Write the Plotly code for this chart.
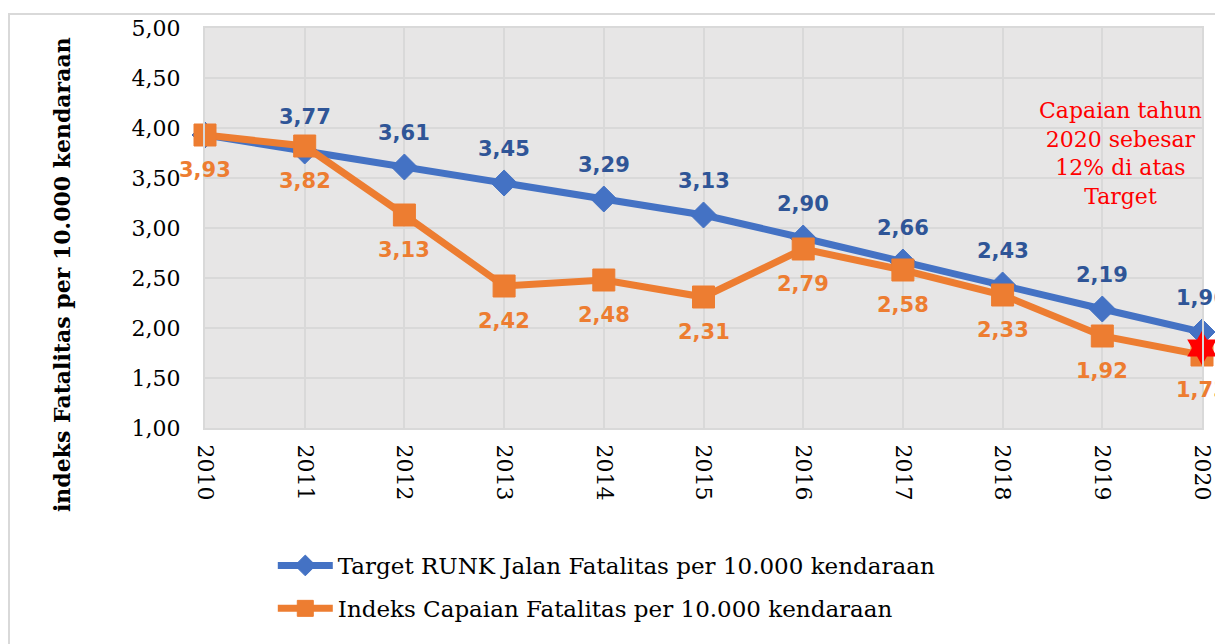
import plotly.graph_objects as go

years = [2010, 2011, 2012, 2013, 2014, 2015, 2016, 2017, 2018, 2019, 2020]
target = [3.93, 3.77, 3.61, 3.45, 3.29, 3.13, 2.90, 2.66, 2.43, 2.19, 1.96]
capaian = [3.93, 3.82, 3.13, 2.42, 2.48, 2.31, 2.79, 2.58, 2.33, 1.92, 1.73]
target_labels = ["", "3,77", "3,61", "3,45", "3,29", "3,13", "2,90", "2,66", "2,43", "2,19", "1,96"]
capaian_labels = ["3,93", "3,82", "3,13", "2,42", "2,48", "2,31", "2,79", "2,58", "2,33", "1,92", "1,73"]
star_x = [2020]
star_y = [1.80]
y_ticks = [1.0, 1.5, 2.0, 2.5, 3.0, 3.5, 4.0, 4.5, 5.0]
y_tick_text = ["1,00", "1,50", "2,00", "2,50", "3,00", "3,50", "4,00", "4,50", "5,00"]

BLUE = "#4472c4"
BLUE_TXT = "#2f5597"
ORANGE = "#ed7d31"
GRID = "#d9d9d9"

fig = go.Figure()
fig.add_trace(go.Scatter(
    x=years, y=target, mode="lines+markers",
    name="Target RUNK Jalan Fatalitas per 10.000 kendaraan", legendgroup="a",
    line=dict(color=BLUE, width=7),
    marker=dict(symbol="diamond", size=20, color=BLUE, line=dict(color=BLUE, width=1)),
    cliponaxis=False,
))
fig.add_trace(go.Scatter(
    x=years, y=capaian, mode="lines+markers",
    name="Indeks Capaian Fatalitas per 10.000 kendaraan", legendgroup="b",
    line=dict(color=ORANGE, width=7),
    marker=dict(symbol="square", size=22, color=ORANGE, line=dict(color=ORANGE, width=1)),
    cliponaxis=False,
))
fig.add_trace(go.Scatter(
    x=star_x, y=star_y, mode="markers", showlegend=False,
    marker=dict(symbol="hexagram", size=26, color="#ff0000", line=dict(width=0)),
    cliponaxis=False,
))

annotations = []
lab_font = dict(family="DejaVu Sans", size=21)
for x, y, t in zip(years, target, target_labels):
    if t:
        annotations.append(dict(x=x, y=y, text="<b>" + t + "</b>", showarrow=False,
                                yshift=34, font=dict(lab_font, color=BLUE_TXT)))
for x, y, t in zip(years, capaian, capaian_labels):
    annotations.append(dict(x=x, y=y, text="<b>" + t + "</b>", showarrow=False,
                            yshift=-35, font=dict(lab_font, color=ORANGE)))

annotations.append(dict(
    xref="paper", yref="paper", x=-0.1434, y=0.3825, xanchor="center", yanchor="middle",
    text="<b>indeks Fatalitas per 10.000 kendaraan</b>", textangle=-90, showarrow=False,
    font=dict(family="DejaVu Serif", size=22, color="black"),
))
annotations.append(dict(
    xref="paper", yref="paper", x=0.918, y=0.685, xanchor="center", yanchor="middle",
    text="Capaian tahun<br>2020 sebesar<br>12% di atas<br>Target", showarrow=False,
    font=dict(family="DejaVu Serif", size=22, color="#ff0000"),
))

fig.update_layout(
    width=1215, height=644,
    margin=dict(l=205, r=13, t=28, b=216, autoexpand=False),
    paper_bgcolor="white",
    plot_bgcolor="#e7e6e6",
    annotations=annotations,
    showlegend=True,
    legend=dict(x=0.068, y=-0.29, xanchor="left", yanchor="top",
                font=dict(family="DejaVu Serif", size=23, color="black"),
                bgcolor="rgba(0,0,0,0)", itemwidth=55, tracegroupgap=10),
    shapes=[dict(type="rect", xref="paper", yref="paper",
                 x0=-0.1966, x1=1.3, y0=-1.0, y1=1.035,
                 line=dict(color=GRID, width=2), layer="below")],
)
fig.update_xaxes(
    range=[2010, 2020], tickmode="array", tickvals=years, ticktext=[str(y) for y in years],
    tickangle=90, showgrid=True, gridcolor=GRID, gridwidth=2, automargin=False,
    showline=True, linecolor=GRID, linewidth=2, mirror=True, zeroline=False,
    ticks="outside", ticklen=10, tickcolor="rgba(0,0,0,0)", ticklabeloverflow="allow",
    tickfont=dict(family="DejaVu Serif", size=22, color="black"),
)
fig.update_yaxes(
    range=[1, 5], tickmode="array", tickvals=y_ticks, ticktext=y_tick_text,
    showgrid=True, gridcolor=GRID, gridwidth=2, automargin=False,
    showline=True, linecolor=GRID, linewidth=2, mirror=True, zeroline=False,
    ticks="outside", ticklen=18, tickcolor="rgba(0,0,0,0)",
    tickfont=dict(family="DejaVu Serif", size=22, color="black"),
)

fig.write_html(
    "out.html",
    config={"displayModeBar": False},
    post_script="document.body.style.margin='0';document.body.style.overflow='hidden';",
)
